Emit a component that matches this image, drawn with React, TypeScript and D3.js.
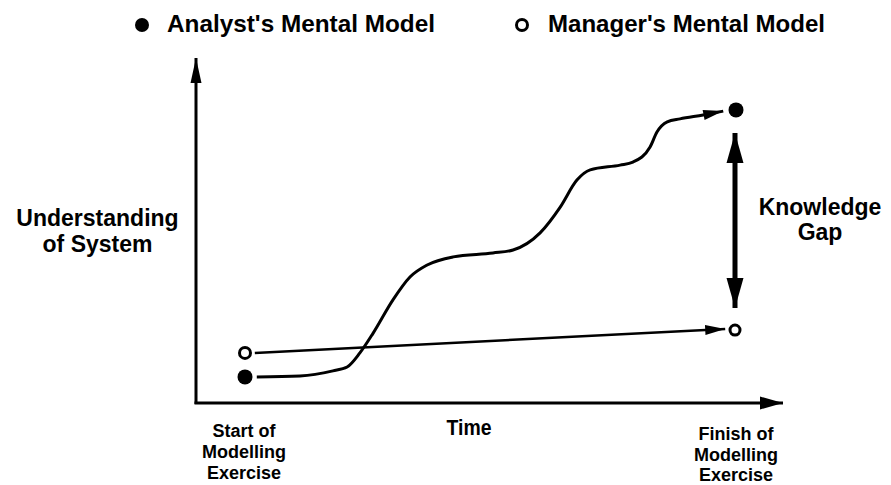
import React from 'react';
import { scaleLinear, line, curveMonotoneX } from 'd3';

const width = 891;
const height = 485;

// time (0 = start, 100 = finish) vs. understanding (0..100)
const analystTime = [2.4, 11.2, 17.9, 20.8, 23.4, 26.1, 30.1, 33.6, 37.1, 42.4, 50.5, 54.6, 60.1, 64.2, 67.6, 70.3, 76.4, 79.0, 82.5, 83.9, 86.0, 88.6, 93.3, 97.4];
const analystLevel = [8.7, 9.0, 10.7, 12.0, 16.7, 23.3, 34.3, 42.0, 46.0, 48.7, 50.0, 51.0, 56.7, 65.3, 74.3, 77.7, 79.3, 80.3, 85.3, 90.3, 93.7, 94.7, 96.0, 97.3];
const managerTime = [2.0, 97.8];
const managerLevel = [16.7, 24.7];

const startLevels = { analyst: 8.7, manager: 16.7 };
const finishLevels = { analyst: 97.7, manager: 24.3 };

const legendLabels = ["Analyst's Mental Model", "Manager's Mental Model"];
const yTitle = ['Understanding', 'of System'];
const gapTitle = ['Knowledge', 'Gap'];
const startLabel = ['Start of', 'Modelling', 'Exercise'];
const finishLabel = ['Finish of', 'Modelling', 'Exercise'];

const font = '"Liberation Sans", Arial, Helvetica, sans-serif';

export default function App() {
  const x = scaleLinear().domain([0, 100]).range([245, 736]);
  const y = scaleLinear().domain([0, 100]).range([403, 103]);

  const analystPts = analystTime.map((t, i) => [x(t), y(analystLevel[i])] as [number, number]);
  const managerPts = managerTime.map((t, i) => [x(t), y(managerLevel[i])] as [number, number]);

  const curve = line().curve(curveMonotoneX);
  const straight = line();

  const gapTop = y(finishLevels.analyst) + 23;
  const gapBottom = y(finishLevels.manager) - 22;

  return (
    <svg width={width} height={height} style={{ position: 'absolute', left: 0, top: 0, background: '#fff' }}>
      <defs>
        <marker id="axisHeadY" markerUnits="userSpaceOnUse" viewBox="-1 -10 30 20" markerWidth={30} markerHeight={20} refX={25} refY={0} orient="auto">
          <path d="M0,-5.5L25,0L0,5.5Z" fill="#000" />
        </marker>
        <marker id="axisHeadX" markerUnits="userSpaceOnUse" viewBox="-1 -10 30 20" markerWidth={30} markerHeight={20} refX={23} refY={0} orient="auto">
          <path d="M0,-6.5L23,0L0,6.5Z" fill="#000" />
        </marker>
        <marker id="lineHead" markerUnits="userSpaceOnUse" viewBox="-1 -10 30 20" markerWidth={30} markerHeight={20} refX={20} refY={0} orient="auto">
          <path d="M0,-5L20,0L0,5Z" fill="#000" />
        </marker>
        <marker id="gapHead" markerUnits="userSpaceOnUse" viewBox="-1 -10 40 20" markerWidth={40} markerHeight={20} refX={30} refY={0} orient="auto-start-reverse">
          <path d="M0,-8.5L30,0L0,8.5Z" fill="#000" />
        </marker>
      </defs>

      {/* legend */}
      <g fontFamily={font} fontWeight="bold" fontSize={24} fill="#000">
        <circle cx={142} cy={25} r={7} fill="#000" />
        <text x={167} y={32} textLength={268} lengthAdjust="spacingAndGlyphs">{legendLabels[0]}</text>
        <circle cx={522} cy={25} r={5.5} fill="#fff" stroke="#000" strokeWidth={3} />
        <text x={548} y={32} textLength={277} lengthAdjust="spacingAndGlyphs">{legendLabels[1]}</text>
      </g>

      {/* axes */}
      <line x1={196} y1={404} x2={196} y2={58} stroke="#000" strokeWidth={3} markerEnd="url(#axisHeadY)" />
      <line x1={194.5} y1={403} x2={783} y2={403} stroke="#000" strokeWidth={3} markerEnd="url(#axisHeadX)" />

      {/* analyst curve */}
      <path d={curve(analystPts) || ''} fill="none" stroke="#000" strokeWidth={3} markerEnd="url(#lineHead)" />
      {/* manager line */}
      <path d={straight(managerPts) || ''} fill="none" stroke="#000" strokeWidth={2.5} markerEnd="url(#lineHead)" />

      {/* start / finish points */}
      <circle cx={x(0)} cy={y(startLevels.analyst)} r={7.5} fill="#000" />
      <circle cx={x(0)} cy={y(startLevels.manager)} r={5.5} fill="#fff" stroke="#000" strokeWidth={3} />
      <circle cx={x(100)} cy={y(finishLevels.analyst)} r={7.5} fill="#000" />
      <circle cx={x(100) - 1} cy={y(finishLevels.manager)} r={5} fill="#fff" stroke="#000" strokeWidth={3} />

      {/* knowledge gap arrow */}
      <line x1={x(100) - 1} y1={gapBottom} x2={x(100) - 1} y2={gapTop} stroke="#000" strokeWidth={5} markerStart="url(#gapHead)" markerEnd="url(#gapHead)" />

      <g fontFamily={font} fontWeight="bold" fill="#000">
        <g fontSize={23} textAnchor="middle">
          <text x={97.5} y={226}>{yTitle[0]}</text>
          <text x={97.5} y={252}>{yTitle[1]}</text>
          <text x={820} y={215}>{gapTitle[0]}</text>
          <text x={820} y={240}>{gapTitle[1]}</text>
        </g>
        <text x={469} y={435} fontSize={22} textAnchor="middle" textLength={45} lengthAdjust="spacingAndGlyphs">Time</text>
        <g fontSize={18} textAnchor="middle">
          {startLabel.map((s, i) => (
            <text key={'s' + i} x={244} y={437 + i * 21}>{s}</text>
          ))}
          {finishLabel.map((s, i) => (
            <text key={'f' + i} x={736} y={440 + i * 20.5}>{s}</text>
          ))}
        </g>
      </g>
    </svg>
  );
}
